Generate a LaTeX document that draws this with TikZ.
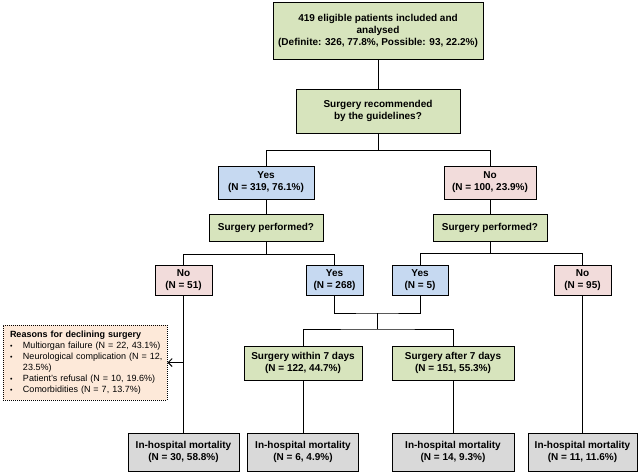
\documentclass[tikz,border=0pt]{standalone}
\usepackage{fontspec}
\setmainfont{Liberation Sans}
\usetikzlibrary{arrows.meta}
\definecolor{boxgreen}{HTML}{D7E4BD}
\definecolor{boxblue}{HTML}{C6D9F1}
\definecolor{boxpink}{HTML}{F2DCDB}
\definecolor{boxgrey}{HTML}{D9D9D9}
\definecolor{boxpeach}{HTML}{FDE9D9}
\begin{document}
\begin{tikzpicture}[x=1pt,y=-1pt,
  box/.style={draw=black,line width=1pt,inner sep=0pt,align=center,
    font=\bfseries\fontsize{10}{12}\selectfont},
  greenbox/.style={box,fill=boxgreen},
  bluebox/.style={box,fill=boxblue,minimum height=30pt},
  pinkbox/.style={box,fill=boxpink,minimum height=30pt},
  deathbox/.style={box,fill=boxgrey,minimum height=38pt},
  notebox/.style={draw=black,line width=1pt,densely dotted,fill=boxpeach,
    inner sep=0pt,text width=150pt,align=left,minimum width=164pt,minimum height=75pt,
    font=\fontsize{9}{11}\selectfont},
  link/.style={line width=1pt}]
\useasboundingbox (0,0) rectangle (640,472);
% upper part
\node[greenbox,minimum width=210pt,minimum height=57pt] (total) at (378,30.5)
  {419 eligible patients included and\\analysed\\(Definite: 326, 77.8\%, Possible: 93, 22.2\%)};
\node[greenbox,minimum width=164pt,minimum height=44pt] (guide) at (378,111)
  {Surgery recommended\\by the guidelines?};
\node[bluebox,minimum width=96pt,minimum height=33pt] (yes1) at (266,182.5) {Yes\\(N = 319, 76.1\%)};
\node[pinkbox,minimum width=92pt,minimum height=33pt] (no1) at (490,182.5) {No\\(N = 100, 23.9\%)};
\node[greenbox,minimum width=114pt,minimum height=27pt] (sp1) at (266,227.5) {Surgery performed?};
\node[greenbox,minimum width=114pt,minimum height=27pt] (sp2) at (490,227.5) {Surgery performed?};
% second level
\node[pinkbox,minimum width=57pt] (no51) at (183.5,280.5) {No\\(N = 51)};
\node[bluebox,minimum width=57pt] (yes268) at (334.5,280.5) {Yes\\(N = 268)};
\node[bluebox,minimum width=56pt] (yes5) at (420,280.5) {Yes\\(N = 5)};
\node[pinkbox,minimum width=57pt] (no95) at (582.5,280.5) {No\\(N = 95)};
\node[greenbox,minimum width=118pt,minimum height=34pt] (within) at (303,363)
  {Surgery within 7 days\\(N = 122, 44.7\%)};
\node[greenbox,minimum width=122pt,minimum height=34pt] (after) at (453,363)
  {Surgery after 7 days\\(N = 151, 55.3\%)};
\node[notebox] (reasons) at (85,362.5) {%
  \begin{tabular}{@{}p{13pt}@{}l@{}}
  \multicolumn{2}{@{}l@{}}{\bfseries Reasons for declining surgery}\\
  {\scriptsize\textbullet} & Multiorgan failure (N = 22, 43.1\%)\\
  {\scriptsize\textbullet} & Neurological complication (N = 12,\\
   & 23.5\%)\\
  {\scriptsize\textbullet} & Patient’s refusal (N = 10, 19.6\%)\\
  {\scriptsize\textbullet} & Comorbidities (N = 7, 13.7\%)
  \end{tabular}};
% outcomes
\node[deathbox,minimum width=111pt] (mort1) at (183.5,452) {In-hospital mortality\\(N = 30, 58.8\%)};
\node[deathbox,minimum width=111pt] (mort2) at (303,452) {In-hospital mortality\\(N = 6, 4.9\%)};
\node[deathbox,minimum width=122pt] (mort3) at (453,452) {In-hospital mortality\\(N = 14, 9.3\%)};
\node[deathbox,minimum width=109pt] (mort4) at (582.5,452) {In-hospital mortality\\(N = 11, 11.6\%)};
% connectors
\coordinate (join) at (377,313);
\coordinate (fork) at (377,329);
\coordinate (tap) at (no51.south |- reasons.east);
\draw[link] (total) -- (guide);
\draw[link] (guide.south) -- ++(0,17) -| (yes1.north);
\draw[link] (guide.south) -- ++(0,17) -| (no1.north);
\draw[link] (yes1) -- (sp1);
\draw[link] (no1) -- (sp2);
\draw[link] (sp1.south) -- ++(0,13) -| (no51.north);
\draw[link] (sp1.south) -- ++(0,13) -| (yes268.north);
\draw[link] (sp2.south) -- ++(0,12) -| (yes5.north);
\draw[link] (sp2.south) -- ++(0,12) -| (no95.north);
\draw[link] (yes268.south) |- (join) -| (yes5.south);
\draw[link] (join) -- (fork);
\draw[link] (within.north) |- (fork) -| (after.north);
\draw[link] (no51) -- (mort1);
\draw[link] (within) -- (mort2);
\draw[link] (after) -- (mort3);
\draw[link] (no95) -- (mort4);
\draw[link,-{Straight Barb[length=4pt,width=8pt]}] (tap) -- (reasons.east);
\end{tikzpicture}
\end{document}
